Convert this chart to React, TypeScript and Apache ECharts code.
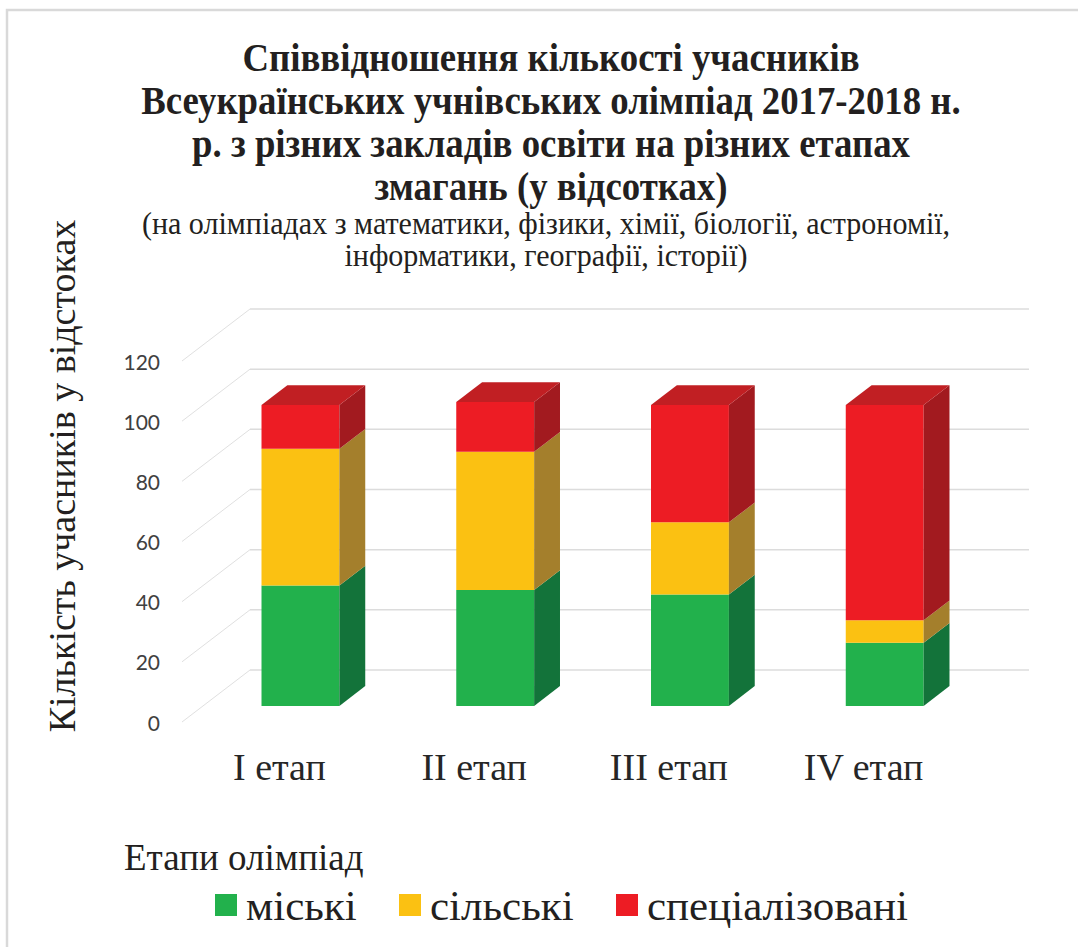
import React, { useEffect, useRef } from "react";
import * as echarts from "echarts";

const categories = ["I етап", "II етап", "III етап", "IV етап"];
const seriesNames = ["міські", "сільські", "спеціалізовані"];
const urban = [40, 38.5, 37, 21];
const rural = [45.5, 46, 24, 7.5];
const special = [14.5, 16.5, 39, 71.5];
const yTicks = [0, 20, 40, 60, 80, 100, 120];

const titleLines = [
  "Співвідношення кількості учасників",
  "Всеукраїнських учнівських олімпіад 2017-2018 н.",
  "р. з різних закладів освіти на різних етапах",
  "змагань (у відсотках)",
];
const subtitleLines = [
  "(на олімпіадах з математики, фізики, хімії, біології, астрономії,",
  "інформатики, географії, історії)",
];
const yAxisTitle = "Кількість учасників у відстоках";
const xAxisTitle = "Етапи олімпіад";

const frontColors = ["#22b14c", "#fbc112", "#ed1c24"];
const sideColors = ["#13733a", "#a47f2c", "#a21a1f"];
const topColors = ["#1a8a3d", "#c9a020", "#c11f23"];

const DX = 68;
const DY = -52;
const F1 = 0.31;
const F2 = 0.69;

export default function App() {
  const ref = useRef<HTMLDivElement>(null);
  useEffect(() => {
    if (!ref.current) return;
    const chart = echarts.init(ref.current, null, { renderer: "svg" });
    const layers = [urban, rural, special];
    const serif = "'Liberation Serif', 'Times New Roman', serif";

    const wallSeries = {
      type: "custom",
      name: "walls",
      silent: true,
      z: 1,
      data: yTicks.map((t) => [0, t]),
      encode: { x: 0, y: 1 },
      renderItem: (params: any, api: any) => {
        const cs = params.coordSys;
        const y = api.coord([0, api.value(1)])[1];
        const gx = cs.x;
        const gw = cs.width;
        const st = { stroke: "#dcdcdc", lineWidth: 1.5 };
        return {
          type: "group",
          children: [
            { type: "line", shape: { x1: gx, y1: y, x2: gx + DX, y2: y + DY }, style: { stroke: "#e0e0e0", lineWidth: 1 } },
            { type: "line", shape: { x1: gx + DX, y1: y + DY, x2: gx + gw + DX, y2: y + DY }, style: st },
          ],
        };
      },
    };

    const barSeries = layers.map((vals, li) => {
      const data = vals.map((v, i) => {
        let base = 0;
        for (let k = 0; k < li; k++) base += layers[k][i];
        return [i, base, base + v];
      });
      return {
        type: "custom",
        name: seriesNames[li],
        z: 2 + li,
        itemStyle: { color: frontColors[li] },
        data,
        encode: { x: 0, y: [1, 2] },
        renderItem: (params: any, api: any) => {
          const i = api.value(0);
          const base = api.value(1);
          const top = api.value(2);
          const cx = api.coord([i, 0])[0];
          const band = api.size([1, 0])[0];
          const w = band * 0.4;
          const xL = cx - w / 2 + DX * F1;
          const xR = xL + w;
          const yB = api.coord([i, base])[1] + DY * F1;
          const yT = api.coord([i, top])[1] + DY * F1;
          const ddx = DX * (F2 - F1);
          const ddy = DY * (F2 - F1);
          const children: any[] = [
            { type: "rect", shape: { x: xL, y: yT, width: w, height: yB - yT }, style: { fill: frontColors[li] } },
            {
              type: "polygon",
              shape: { points: [[xR, yB], [xR, yT], [xR + ddx, yT + ddy], [xR + ddx, yB + ddy]] },
              style: { fill: sideColors[li] },
            },
          ];
          if (li === layers.length - 1) {
            children.push({
              type: "polygon",
              shape: { points: [[xL, yT], [xR, yT], [xR + ddx, yT + ddy], [xL + ddx, yT + ddy]] },
              style: { fill: topColors[li] },
            });
          }
          return { type: "group", children };
        },
      };
    });

    const titleGraphics: any[] = titleLines.map((t, k) => ({
      type: "text",
      x: 551,
      y: 57 + k * 43,
      scaleX: 0.92,
      style: {
        text: t,
        font: `bold 40px ${serif}`,
        fill: "#231f20",
        align: "center",
        verticalAlign: "middle",
      },
    }));
    const subGraphics: any[] = subtitleLines.map((t, k) => ({
      type: "text",
      x: 546,
      y: 224 + k * 32,
      scaleX: 0.97,
      style: {
        text: t,
        font: `31px ${serif}`,
        fill: "#231f20",
        align: "center",
        verticalAlign: "middle",
      },
    }));

    const legendLefts = [210, 394, 611];
    const legends = seriesNames.map((n, k) => ({
      data: [n],
      left: legendLefts[k],
      top: 877,
      icon: "rect",
      itemWidth: 22,
      itemHeight: 22,
      textStyle: { fontFamily: serif, fontSize: 43, lineHeight: 46, color: "#231f20", padding: [0, 0, 0, 4] },
    }));

    chart.setOption({
      animation: false,
      backgroundColor: "#ffffff",
      grid: { left: 182, top: 361, width: 779, height: 361 },
      xAxis: {
        type: "category",
        data: categories,
        axisLine: { show: false },
        axisTick: { show: false },
        axisLabel: { fontFamily: serif, fontSize: 38, color: "#262626", margin: 26 },
      },
      yAxis: {
        type: "value",
        min: 0,
        max: 120,
        interval: 20,
        axisLine: { show: false },
        axisTick: { show: false },
        splitLine: { show: false },
        axisLabel: { fontFamily: "Lato", fontSize: 21, color: "#404040", margin: 22 },
      },
      legend: legends,
      graphic: [
        {
          type: "rect",
          shape: { x: 7, y: 10, width: 1200, height: 1200 },
          style: { fill: "none", stroke: "#d9d9d9", lineWidth: 2.5 },
          silent: true,
        },
        ...titleGraphics,
        ...subGraphics,
        {
          type: "text",
          x: 62,
          y: 476,
          rotation: Math.PI / 2,
          style: {
            text: yAxisTitle,
            font: `38px ${serif}`,
            fill: "#231f20",
            align: "center",
            verticalAlign: "middle",
          },
        },
        {
          type: "text",
          x: 124,
          y: 857,
          style: {
            text: xAxisTitle,
            font: `37px ${serif}`,
            fill: "#231f20",
            align: "left",
            verticalAlign: "middle",
          },
        },
      ],
      series: [wallSeries, ...barSeries],
    });
    return () => chart.dispose();
  }, []);
  return (
    <div
      ref={ref}
      style={{ position: "fixed", left: 0, top: 0, width: 1078, height: 947, background: "#fff" }}
    />
  );
}
